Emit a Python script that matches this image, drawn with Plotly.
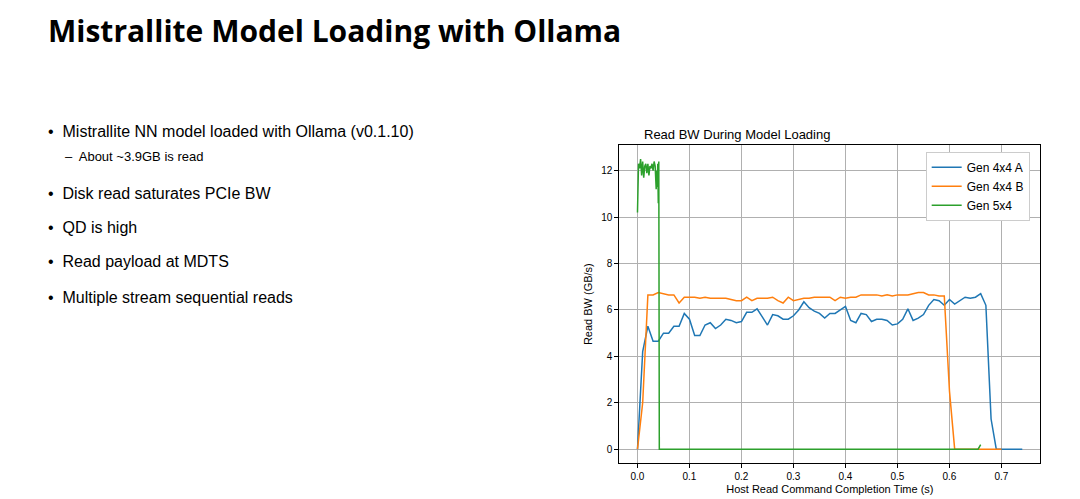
import plotly.graph_objects as go

a_x = [0, 0.01, 0.02, 0.03, 0.04, 0.05, 0.06, 0.07, 0.08, 0.09, 0.10, 0.11, 0.12, 0.13, 0.14, 0.15, 0.16, 0.17, 0.18, 0.19,
       0.20, 0.21, 0.22, 0.23, 0.24, 0.25, 0.26, 0.27, 0.28, 0.29, 0.30, 0.31, 0.32, 0.33, 0.34, 0.35, 0.36, 0.37, 0.38, 0.39,
       0.40, 0.41, 0.42, 0.43, 0.44, 0.45, 0.46, 0.47, 0.48, 0.49, 0.50, 0.51, 0.52, 0.53, 0.54, 0.55, 0.56, 0.57, 0.58, 0.59,
       0.60, 0.61, 0.62, 0.63, 0.64, 0.65, 0.66, 0.67, 0.68, 0.69, 0.70, 0.74]
a_y = [0, 4.2, 5.3, 4.65, 4.65, 5.0, 5.0, 5.3, 5.3, 5.85, 5.6, 4.9, 4.9, 5.35, 5.45, 5.2, 5.35, 5.6, 5.55, 5.45,
       5.5, 5.9, 5.9, 6.05, 5.7, 5.35, 5.8, 5.75, 5.6, 5.6, 5.75, 6.0, 6.35, 6.1, 5.95, 5.85, 5.65, 5.85, 5.85, 6.0,
       6.15, 5.55, 5.45, 5.85, 5.8, 5.5, 5.6, 5.6, 5.55, 5.35, 5.4, 5.6, 6.05, 5.55, 5.65, 5.8, 6.2, 6.45, 6.4, 6.2,
       6.45, 6.25, 6.4, 6.55, 6.5, 6.55, 6.7, 6.2, 1.3, 0, 0, 0]
b_x = [0, 0.01, 0.02, 0.03, 0.04, 0.05, 0.06, 0.07, 0.08, 0.09, 0.10, 0.11, 0.12, 0.13, 0.14, 0.15, 0.16, 0.17, 0.18, 0.19,
       0.20, 0.21, 0.22, 0.23, 0.24, 0.25, 0.26, 0.27, 0.28, 0.29, 0.30, 0.31, 0.32, 0.33, 0.34, 0.35, 0.36, 0.37, 0.38, 0.39,
       0.40, 0.41, 0.42, 0.43, 0.44, 0.45, 0.46, 0.47, 0.48, 0.49, 0.50, 0.51, 0.52, 0.53, 0.54, 0.55, 0.56, 0.57, 0.58, 0.59,
       0.60, 0.61, 0.70]
b_y = [0, 2.0, 6.65, 6.65, 6.75, 6.7, 6.65, 6.65, 6.3, 6.55, 6.55, 6.55, 6.5, 6.55, 6.5, 6.5, 6.5, 6.5, 6.45, 6.4,
       6.4, 6.55, 6.4, 6.5, 6.5, 6.5, 6.55, 6.4, 6.3, 6.55, 6.4, 6.45, 6.5, 6.5, 6.55, 6.55, 6.55, 6.55, 6.4, 6.55,
       6.5, 6.55, 6.55, 6.65, 6.65, 6.65, 6.65, 6.6, 6.65, 6.6, 6.65, 6.65, 6.65, 6.7, 6.75, 6.75, 6.65, 6.65, 6.6, 6.6,
       2.5, 0, 0]
g_x = [0, 0.002, 0.004, 0.006, 0.008, 0.010, 0.012, 0.014, 0.016, 0.018, 0.020, 0.022, 0.024, 0.026, 0.028, 0.030,
       0.032, 0.034, 0.036, 0.037, 0.038, 0.039, 0.040, 0.041, 0.042, 0.655, 0.66]
g_y = [10.2, 12.3, 12.1, 12.5, 11.8, 12.4, 11.7, 12.2, 12.3, 11.9, 12.3, 11.8, 12.2, 12.1, 12.3, 12.0, 12.4, 12.2, 11.2,
       12.0, 11.3, 12.3, 10.6, 12.4, 0, 0, 0.2]

fig = go.Figure()
fig.add_trace(go.Scatter(x=a_x, y=a_y, mode="lines", name="Gen 4x4 A", line=dict(color="#1f77b4", width=1.5)))
fig.add_trace(go.Scatter(x=b_x, y=b_y, mode="lines", name="Gen 4x4 B", line=dict(color="#ff7f0e", width=1.5)))
fig.add_trace(go.Scatter(x=g_x, y=g_y, mode="lines", name="Gen 5x4", line=dict(color="#2ca02c", width=1.5)))

ax = dict(showline=True, mirror=True, linecolor="black", linewidth=1, showgrid=True, gridcolor="#b0b0b0",
          ticks="outside", tickcolor="black", ticklen=4, zeroline=False, tickfont=dict(size=10, color="black"))
fig.update_layout(
    width=1080, height=499, paper_bgcolor="white", plot_bgcolor="white",
    font=dict(family="Liberation Sans, Arial", color="black"),
    margin=dict(l=0, r=0, t=0, b=0, autoexpand=False), showlegend=True,
    legend=dict(x=0.946, y=0.712, xanchor="right", yanchor="top", bgcolor="white", bordercolor="#cccccc",
                borderwidth=1, font=dict(size=12), tracegroupgap=0),
    xaxis=dict(ax, domain=[0.566, 0.956], range=[-0.035, 0.775], dtick=0.1, tickformat=".1f",
               title=dict(text="Host Read Command Completion Time (s)", font=dict(size=11), standoff=4)),
    yaxis=dict(ax, domain=[0.088, 0.725], range=[-0.6, 13.1], dtick=2,
               title=dict(text="Read BW (GB/s)", font=dict(size=11), standoff=6)),
)
fig.add_annotation(x=0.763, y=0.727, xref="paper", yref="paper", text="Read BW During Model Loading",
                   showarrow=False, yanchor="bottom", font=dict(size=13))
fig.add_annotation(x=38/1080, y=1-22/499, xref="paper", yref="paper", text="<b>Mistrallite Model Loading with Ollama</b>",
                   showarrow=False, xanchor="left", yanchor="middle", font=dict(size=30, family="Open Sans, Liberation Sans"))

bullets = [("•  Mistrallite NN model loaded with Ollama (v0.1.10)", 38, 123, 16),
           ("–  About ~3.9GB is read", 55, 149, 13),
           ("•  Disk read saturates PCIe BW", 38, 185, 16),
           ("•  QD is high", 38, 219, 16),
           ("•  Read payload at MDTS", 38, 254, 16),
           ("•  Multiple stream sequential reads", 38, 289, 16)]
for t, x, y, s in bullets:
    fig.add_annotation(x=x/1080, y=1-y/499, xref="paper", yref="paper", text=t, showarrow=False,
                       xanchor="left", yanchor="middle", font=dict(size=s))

fig.write_html("out.html")
